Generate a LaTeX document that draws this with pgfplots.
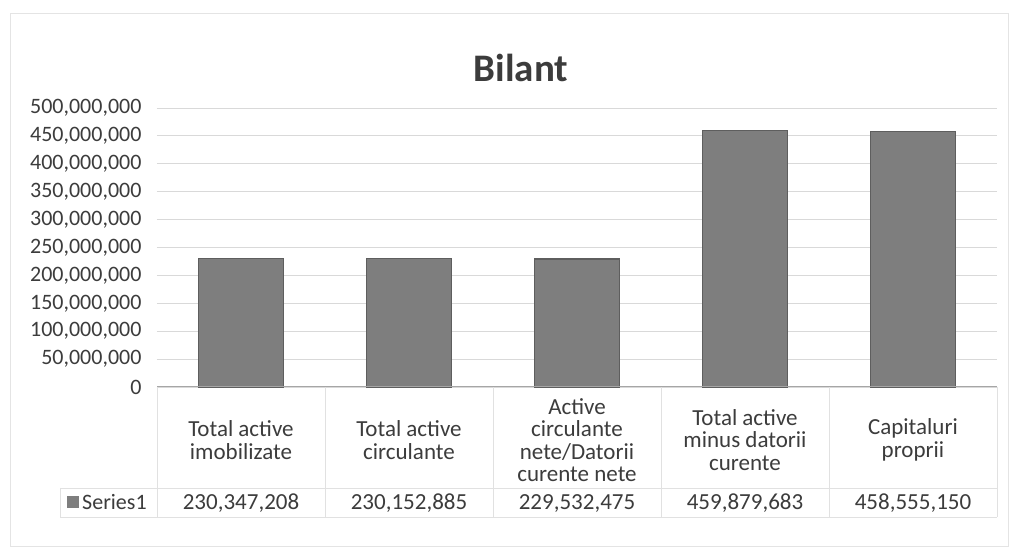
\documentclass[border=0pt]{standalone}
\usepackage{pgfplots}
\pgfplotsset{compat=1.18}
\usepackage{fontspec}
\setmainfont{Carlito}
\definecolor{txt}{HTML}{3C3C3C}
\definecolor{gridc}{HTML}{D9D9D9}
\definecolor{barfill}{HTML}{7E7E7E}
\definecolor{baredge}{HTML}{5E5E5E}
\begin{document}
\begin{tikzpicture}[x=1pt,y=1pt]
\fill[white] (0,0) rectangle (1013,548);
\draw[gridc!70, line width=0.8pt] (10,2) rectangle (1008,535);
\begin{axis}[
  at={(157pt,161pt)}, anchor=south west,
  scale only axis, width=840pt, height=279pt,
  xmin=-0.5, xmax=4.5, ymin=0, ymax=500000000,
  axis line style={draw=none},
  ytick={0,50000000,...,500000000},
  scaled y ticks=false,
  /pgf/number format/fixed, /pgf/number format/precision=0,
  /pgf/number format/1000 sep={,}, /pgf/number format/assume math mode=true,
  yticklabel style={font=\fontsize{22}{24}\selectfont, text=txt, xshift=-12pt},
  ymajorgrids, xmajorgrids=false, grid style={draw=gridc, line width=0.8pt},
  major tick length=0,
  xtick=data,
  xticklabels={{Total active\\imobilizate},{Total active\\circulante},{Active\\circulante\\nete/Datorii\\curente nete},{Total active\\minus datorii\\curente},{Capitaluri\\proprii}},
  xticklabel style={font=\fontsize{23}{22.5}\selectfont, text=txt, align=center, anchor=center, yshift=-53pt},
  clip=false,
]
\addplot[ybar, bar width=0.51, fill=barfill, draw=baredge, line width=1.2pt] coordinates {
  (0,230347208) (1,230152885) (2,229532475) (3,459879683) (4,458555150)
};
\end{axis}
% x axis line
\draw[black!35, line width=1pt] (157,161) -- (997,161);
% data table
\foreach \x in {157,325,493,661,829,997} \draw[gridc!80, line width=0.8pt] (\x,161) -- (\x,31);
\draw[gridc!80, line width=0.8pt] (60,60) -- (997,60);
\draw[gridc!80, line width=0.8pt] (60,31) -- (997,31);
\draw[gridc!80, line width=0.8pt] (60,60) -- (60,31);
\fill[barfill] (67,40) rectangle (79,52);
\node[anchor=base west, inner sep=0pt, text=txt, font=\fontsize{22}{24}\selectfont] at (82,38) {Series1};
\foreach \x/\v in {241/{230,347,208},409/{230,152,885},577/{229,532,475},745/{459,879,683},913/{458,555,150}}
  \node[anchor=base, inner sep=0pt, text=txt, font=\fontsize{23}{24}\selectfont] at (\x,38) {\v};
% title
\node[text=txt, font=\fontsize{39}{41}\selectfont\bfseries] at (521,480) {Bilant};
\end{tikzpicture}
\end{document}
